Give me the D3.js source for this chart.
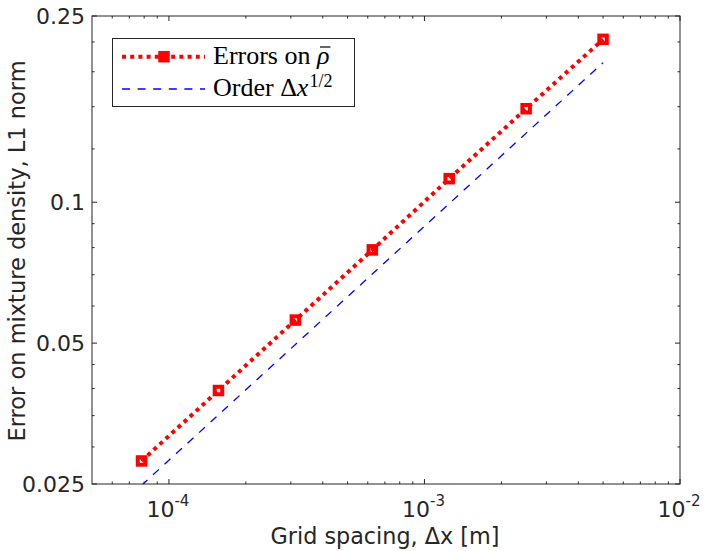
<!DOCTYPE html>
<html><head><meta charset="utf-8">
<script src="https://cdn.jsdelivr.net/npm/d3@7/dist/d3.min.js"></script>
<style>body{margin:0;background:#fff}</style>
</head><body>
<svg id="c" width="709" height="551"></svg>
<script>
// ---- data ----
const gridSpacing = [7.8125e-5, 1.5625e-4, 3.125e-4, 6.25e-4, 1.25e-3, 2.5e-3, 5e-3];
const errorsRho   = [0.0280, 0.0396, 0.0560, 0.0791, 0.1123, 0.1584, 0.2229];
const orderHalf   = [0.02484, 0.03513, 0.04967, 0.07025, 0.09935, 0.1405, 0.1987];
const xMajorTicks = [1e-4, 1e-3, 1e-2];
const xTickExponents = ["-4", "-3", "-2"];
const xMinorTicks = [6e-5, 7e-5, 8e-5, 9e-5,
  2e-4, 3e-4, 4e-4, 5e-4, 6e-4, 7e-4, 8e-4, 9e-4,
  2e-3, 3e-3, 4e-3, 5e-3, 6e-3, 7e-3, 8e-3, 9e-3];
const yMajorTicks = [0.025, 0.05, 0.1, 0.25];
const yTickLabels = ["0.025", "0.05", "0.1", "0.25"];
const yMinorTicks = [0.03, 0.035, 0.04, 0.045, 0.06, 0.07, 0.08, 0.09, 0.13, 0.16, 0.19, 0.22];

// ---- layout ----
const L = 92, R = 680, T = 16, B = 484;
const axisColor = "#262626";
const svg = d3.select("#c");
const x = d3.scaleLog().domain([5e-5, 1e-2]).range([L, R]);
const y = d3.scaleLog().domain([0.025, 0.25]).range([B, T]);

svg.append("defs").append("clipPath").attr("id", "clip")
  .append("rect").attr("x", L).attr("y", T).attr("width", R - L).attr("height", B - T);

const plot = svg.append("g").attr("clip-path", "url(#clip)");

// order line
const lineGen = d3.line().x(d => x(d[0])).y(d => y(d[1]));
plot.append("path")
  .datum(gridSpacing.map((g, i) => [g, orderHalf[i]]))
  .attr("d", lineGen).attr("fill", "none").attr("stroke", "#0000ff")
  .attr("stroke-width", 1.3).attr("stroke-dasharray", "8 7.6");

// error line
plot.append("path")
  .datum(gridSpacing.map((g, i) => [g, errorsRho[i]]))
  .attr("d", lineGen).attr("fill", "none").attr("stroke", "#ff0000")
  .attr("stroke-width", 4).attr("stroke-dasharray", "4 4.2");

const ms = 7.5;
plot.selectAll("rect.mk").data(gridSpacing.map((g, i) => [g, errorsRho[i]]))
  .enter().append("rect").attr("class", "mk")
  .attr("x", d => x(d[0]) - ms / 2).attr("y", d => y(d[1]) - ms / 2)
  .attr("width", ms).attr("height", ms)
  .attr("fill", "none").attr("stroke", "#ff0000").attr("stroke-width", 4);

// ---- axes box & ticks ----
const ax = svg.append("g").attr("stroke", axisColor).attr("stroke-width", 1);
ax.append("rect").attr("x", L).attr("y", T).attr("width", R - L).attr("height", B - T).attr("fill", "none");

function xt(v, len) {
  ax.append("line").attr("x1", x(v)).attr("x2", x(v)).attr("y1", B).attr("y2", B - len);
  ax.append("line").attr("x1", x(v)).attr("x2", x(v)).attr("y1", T).attr("y2", T + len);
}
function yt(v, len) {
  ax.append("line").attr("y1", y(v)).attr("y2", y(v)).attr("x1", L).attr("x2", L + len);
  ax.append("line").attr("y1", y(v)).attr("y2", y(v)).attr("x1", R).attr("x2", R - len);
}
xMajorTicks.forEach(v => xt(v, 5));
xMinorTicks.forEach(v => xt(v, 2.5));
yMajorTicks.forEach(v => yt(v, 5));
yMinorTicks.forEach(v => yt(v, 2.5));

// tick labels
const sans = "'DejaVu Sans', sans-serif";
yMajorTicks.forEach((v, i) => {
  svg.append("text").attr("x", L - 7).attr("y", y(v)).attr("dy", "0.36em")
    .attr("text-anchor", "end").attr("font-family", sans).attr("font-size", 22)
    .attr("fill", axisColor).text(yTickLabels[i]);
});
xMajorTicks.forEach((v, i) => {
  const t = svg.append("text").attr("x", x(v) - 1).attr("y", 516.7)
    .attr("text-anchor", "middle").attr("font-family", sans).attr("font-size", 22)
    .attr("fill", axisColor);
  t.append("tspan").text("10");
  t.append("tspan").attr("font-size", 15).attr("dy", -10.5).text(xTickExponents[i]);
});

// axis labels
svg.append("text").attr("x", (L + R) / 2 - 1).attr("y", 543.5).attr("text-anchor", "middle")
  .attr("font-family", sans).attr("font-size", 22.3).attr("fill", axisColor)
  .text("Grid spacing, \u0394x [m]");
svg.append("text").attr("transform", `translate(25,${(T + B) / 2 + 1}) rotate(-90)`)
  .attr("text-anchor", "middle").attr("font-family", sans).attr("font-size", 22.5)
  .attr("fill", axisColor).text("Error on mixture density, L1 norm");

// ---- legend ----
const serif = "'Liberation Serif', 'Times New Roman', serif";
const lg = svg.append("g");
lg.append("rect").attr("x", 112.5).attr("y", 38.5).attr("width", 242).attr("height", 68)
  .attr("fill", "#fff").attr("stroke", axisColor).attr("stroke-width", 1);
lg.append("line").attr("x1", 122).attr("x2", 205).attr("y1", 56.7).attr("y2", 56.7)
  .attr("stroke", "#ff0000").attr("stroke-width", 4).attr("stroke-dasharray", "4 4.2");
lg.append("rect").attr("x", 164 - ms / 2).attr("y", 56.7 - ms / 2).attr("width", ms).attr("height", ms)
  .attr("fill", "#ff0000").attr("stroke", "#ff0000").attr("stroke-width", 4);
lg.append("line").attr("x1", 122).attr("x2", 205).attr("y1", 89).attr("y2", 89)
  .attr("stroke", "#0000ff").attr("stroke-width", 1.3).attr("stroke-dasharray", "8 7.6");

const t1 = lg.append("text").attr("x", 213).attr("y", 63.5).attr("font-family", serif)
  .attr("font-size", 26).attr("fill", "#000");
t1.append("tspan").text("Errors on ");
const rho = t1.append("tspan").attr("font-style", "italic").text("\u03C1");
// bar over rho
const n = t1.node();
const total = n.getComputedTextLength();
const rhoLen = rho.node().getComputedTextLength();
const rx0 = 213 + total - rhoLen;
lg.append("line").attr("x1", rx0 + 3).attr("x2", rx0 + rhoLen + 1)
  .attr("y1", 47).attr("y2", 47).attr("stroke", "#000").attr("stroke-width", 1.2);

const t2 = lg.append("text").attr("x", 213).attr("y", 96).attr("font-family", serif)
  .attr("font-size", 26).attr("fill", "#000");
t2.append("tspan").text("Order \u0394");
t2.append("tspan").attr("font-style", "italic").text("x");
t2.append("tspan").attr("font-size", 18).attr("dy", -9.5).attr("dx", 1).text("1/2");
</script>
</body></html>
